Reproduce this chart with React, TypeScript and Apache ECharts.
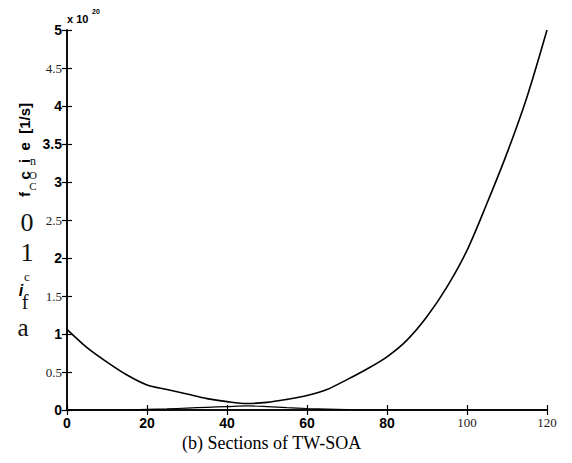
import React, { useEffect, useRef } from "react";
import * as echarts from "echarts";

const xValues = [0, 5, 10, 15, 20, 25, 30, 35, 40, 45, 50, 55, 60, 65, 70, 75, 80, 85, 90, 95, 100, 105, 110, 115, 120];
const coeffA = [1.06, 0.82, 0.63, 0.46, 0.33, 0.27, 0.21, 0.15, 0.11, 0.085, 0.1, 0.14, 0.19, 0.27, 0.4, 0.54, 0.7, 0.92, 1.23, 1.62, 2.1, 2.72, 3.38, 4.12, 5.0];
const coeffB = [0, 0, 0, 0, 0.01, 0.015, 0.025, 0.035, 0.045, 0.055, 0.045, 0.03, 0.02, 0.012, 0.005, 0, 0, 0, 0, 0, 0, 0, 0, 0, 0];
const xTickLabels = ["0", "20", "40", "60", "80", "100", "120"];
const yTickLabels = ["0", "0.5", "1", "1.5", "2", "2.5", "3", "3.5", "4", "4.5", "5"];
const boldXTicks = ["0", "20", "40", "60", "80"];
const boldYTicks = ["0", "1", "2", "3", "3.5", "4", "5"];
const xTitle = "(b) Sections of TW-SOA";
const exponentLabel = "x 10";
const exponentSup = "20";

export default function App() {
  const ref = useRef<HTMLDivElement>(null);
  useEffect(() => {
    if (!ref.current) return;
    const chart = echarts.init(ref.current, null, { renderer: "svg" });
    const sans = "Liberation Sans, Arial, sans-serif";
    const serif = "Liberation Serif, Times New Roman, serif";
    const rich = {
      b: { fontFamily: sans, fontWeight: "bold", fontSize: 14, color: "#000" },
      s: { fontFamily: serif, fontSize: 13, color: "#222" },
    };
    const fmt = (bold: string[], labels: string[]) => (v: number) => {
      const s = String(Math.round(v * 10) / 10);
      if (!labels.includes(s)) return "";
      return bold.includes(s) ? `{b|${s}}` : `{s|${s}}`;
    };
    const axisLine = { show: true, lineStyle: { color: "#000", width: 1.5 } };
    const axisTick = { show: true, inside: true, length: 5, lineStyle: { color: "#000", width: 1.2 } };
    const serifChars = [
      { t: "n", x: 33, y: 161, s: 12 },
      { t: "O", x: 33, y: 175, s: 11 },
      { t: "C", x: 33, y: 186, s: 11 },
      { t: "0", x: 27, y: 222, s: 26 },
      { t: "1", x: 27, y: 252, s: 26 },
      { t: "c", x: 27, y: 276, s: 13 },
      { t: "f", x: 25, y: 302, s: 20 },
      { t: "a", x: 23, y: 327, s: 25 },
    ];
    chart.setOption({
      animation: false,
      backgroundColor: "#fff",
      grid: { left: 67, top: 30, right: 25, bottom: 53 },
      xAxis: [
        {
          type: "value", min: 0, max: 120, interval: 20,
          axisLine, axisTick, splitLine: { show: false },
          axisLabel: { formatter: fmt(boldXTicks, xTickLabels), rich, margin: 6 },
        },
        {
          type: "value", position: "top", min: 0, max: 120, interval: 20,
          axisLine, axisTick, splitLine: { show: false }, axisLabel: { show: false },
        },
      ],
      yAxis: [
        {
          type: "value", min: 0, max: 5, interval: 0.5,
          axisLine, axisTick, splitLine: { show: false },
          axisLabel: { formatter: fmt(boldYTicks, yTickLabels), rich, margin: 5 },
        },
        {
          type: "value", position: "right", min: 0, max: 5, interval: 0.5,
          axisLine, axisTick, splitLine: { show: false }, axisLabel: { show: false },
        },
      ],
      series: [
        {
          type: "line", smooth: 0.3, showSymbol: false,
          data: xValues.map((x, i) => [x, coeffA[i]]),
          lineStyle: { color: "#000", width: 1.6 },
        },
        {
          type: "line", smooth: 0.3, showSymbol: false,
          data: xValues.map((x, i) => [x, coeffB[i]]),
          lineStyle: { color: "#000", width: 1.2 },
        },
      ],
      graphic: [
        {
          type: "text", left: 182, top: 434,
          style: { text: xTitle, font: `18px ${serif}`, fill: "#000" },
        },
        {
          type: "text", x: 67, y: 13,
          style: { text: exponentLabel, font: `bold 11px ${sans}`, fill: "#000" },
        },
        {
          type: "text", x: 92, y: 8,
          style: { text: exponentSup, font: `bold 7px ${sans}`, fill: "#000" },
        },
        {
          type: "text", x: 24, y: 150, rotation: Math.PI / 2,
          style: { text: "f   c  i  e  [1/s]", font: `bold 15px ${sans}`, fill: "#000", align: "center", verticalAlign: "middle" },
        },
        {
          type: "text", x: 21, y: 290,
          style: { text: "i", font: `bold italic 16px ${sans}`, fill: "#000", align: "center", verticalAlign: "middle" },
        },
        ...serifChars.map((c) => ({
          type: "text", x: c.x, y: c.y,
          style: { text: c.t, font: `${c.s}px ${serif}`, fill: "#111", align: "center", verticalAlign: "middle" },
        })),
      ],
    });
    return () => chart.dispose();
  }, []);
  return <div ref={ref} style={{ position: "fixed", left: 0, top: 0, width: 572, height: 463 }} />;
}
